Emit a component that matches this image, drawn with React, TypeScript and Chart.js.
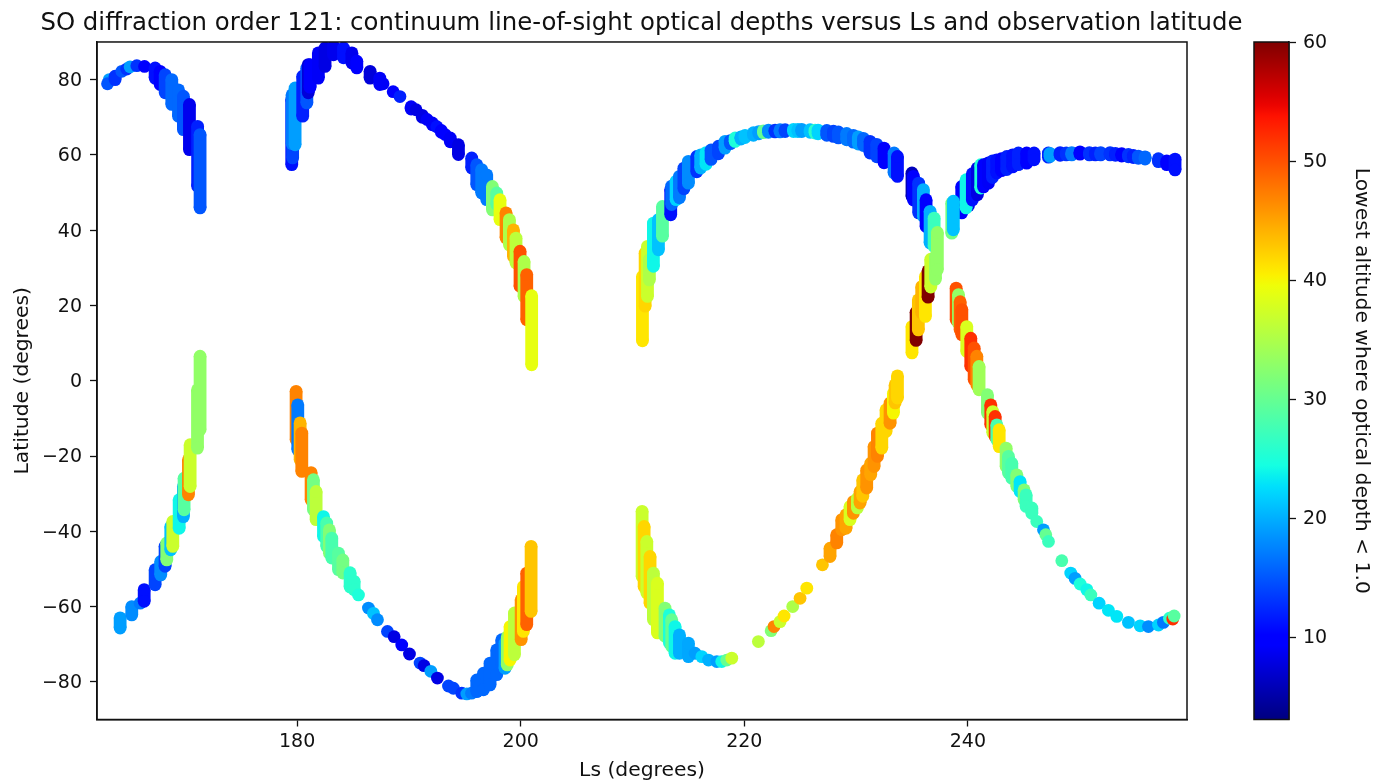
import React, { useEffect, useRef } from "react";
import { Chart, registerables } from "chart.js";

Chart.register(...registerables);

// Each row is one occultation: [Ls, latitude at one end, latitude at other end, lowest altitude]
type Swath = [number, number, number, number];

const titleText = "SO diffraction order 121: continuum line-of-sight optical depths versus Ls and observation latitude";
const xLabel = "Ls (degrees)";
const yLabel = "Latitude (degrees)";
const colorLabel = "Lowest altitude where optical depth < 1.0";
const xTicks = [180, 200, 220, 240];
const yTicks = [-80, -60, -40, -20, 0, 20, 40, 60, 80];
const colorTicks = [10, 20, 30, 40, 50, 60];

const northArcA: Swath[] = [
  [163.2, 80.0, 80.0, 19], [163.04, 78.9, 78.9, 15], [163.72, 80.9, 80.0, 13], [164.32, 82.2, 82.2, 15],
  [164.76, 82.8, 82.8, 13], [165.06, 83.4, 83.4, 19], [165.66, 83.7, 83.7, 13], [166.35, 83.5, 83.5, 9.5],
  [167.3, 83.1, 80.4, 11], [167.75, 82.2, 78.7, 10], [168.2, 81.3, 76.5, 14], [168.79, 80.0, 73.4, 16],
  [169.39, 77.3, 70.3, 16], [169.83, 75.6, 66.7, 15], [170.37, 73.4, 61.4, 8.5], [171.1, 67.6, 51.7, 12],
  [171.32, 65.4, 45.9, 15],
];

const northArcB: Swath[] = [
  [179.52, 74.7, 57.4, 11], [179.6, 74.2, 59.2, 14], [179.55, 76, 63, 17], [179.82, 77.8, 62.7, 19], [180.5, 80.9, 70.3, 12],
  [180.87, 83.1, 73.8, 15], [181.0, 84, 76.5, 7.5], [181.16, 84, 78, 10], [181.9, 87.1, 80.4, 9],
  [182.5, 88.4, 83.5, 8], [183.25, 88.9, 86.6, 8.5], [184.15, 88.4, 85.8, 11], [184.9, 87.1, 84.4, 8.5],
  [185.34, 84.9, 83.1, 9.5], [186.53, 82.2, 80.4, 7.5], [187.4, 80.4, 78.7, 9], [187.69, 78.9, 78.9, 9],
  [188.59, 76.8, 76.8, 10], [189.2, 75.5, 75.5, 12], [190.2, 72.8, 72.2, 9], [190.64, 72, 72, 8], [191.2, 70.5, 70, 8], [191.63, 69.4, 69.4, 9],
  [192.1, 68.5, 68, 9], [192.5, 67.5, 67.5, 11], [192.9, 66.5, 66, 10], [193.24, 65.4, 65.4, 9.5], [193.7, 64.5, 63.5, 9], [194.43, 62.7, 60.1, 8], [195.62, 59.2, 56.5, 12],
  [196.07, 57.4, 52.1, 15], [196.51, 56.1, 49.9, 17], [196.96, 54.7, 48.1, 17], [197.47, 51.6, 45.4, 32],
  [197.86, 49.9, 46.8, 29], [198.15, 48.1, 42.8, 39], [198.69, 44.6, 37.9, 47], [198.99, 42.8, 36.1, 35],
  [199.35, 40.1, 33, 44], [199.58, 37.9, 31.3, 36], [199.94, 34.4, 25.1, 50], [200.3, 31.7, 22.4, 35],
  [200.54, 28.2, 16.2, 49], [200.98, 22.6, 4.25, 39],
];

const northArcC: Swath[] = [
  [210.89, 27.7, 10.6, 41], [211.13, 33.9, 19.8, 42], [211.34, 35.7, 22.4, 37], [211.51, 32.2, 26.8, 35],
  [211.87, 41.9, 30.4, 24], [212.32, 42.8, 34.8, 21], [212.68, 46.3, 38.4, 29], [213.42, 50.8, 44.1, 11],
  [213.5, 51.7, 46.8, 16], [213.9, 53, 48.1, 22], [214.2, 54.3, 48.6, 17], [214.6, 56.5, 51, 14], [215, 58.3, 52.5, 18],
  [215.75, 59.6, 55.5, 13], [216.1, 60, 56.5, 20], [216.58, 60.6, 57.5, 23], [217.03, 61.3, 58.8, 15], [217.69, 62.3, 60.3, 14],
  [218.28, 63.6, 61.8, 19], [218.75, 63.8, 63, 15], [219.18, 64.5, 63.6, 25], [219.7, 64.8, 64.2, 20], [220.07, 65.2, 64.6, 21],
  [220.82, 65.9, 65.2, 20], [221.3, 66.2, 65.6, 19], [221.71, 66.4, 65.9, 30], [222.16, 66.6, 66, 18], [222.75, 66.6, 66.1, 13],
  [223.2, 66.7, 66.1, 17], [223.65, 66.7, 66.2, 14], [224.4, 66.8, 66.2, 22], [224.8, 66.8, 66.2, 21], [225.14, 66.8, 66.2, 19],
  [225.89, 66.7, 66, 21], [226.33, 66.6, 65.8, 26], [226.6, 66.6, 65.6, 22], [227.38, 66.5, 65.2, 15], [227.97, 66.3, 64.9, 14],
  [228.42, 66.1, 64.5, 15], [229.16, 65.7, 64, 17], [229.76, 65.2, 63.4, 16], [230.2, 64.8, 62.9, 19], [230.66, 64.4, 62.5, 16],
  [231.25, 63.6, 60.5, 13], [231.85, 62.8, 59.5, 14], [232.5, 61.8, 57.9, 10], [233.4, 60.5, 55.2, 17], [233.7, 59.6, 54.3, 11],
  [235, 55.2, 49, 6], [235.13, 54.3, 48, 10], [235.6, 52.5, 44.6, 13], [236.02, 50.8, 43.7, 20], [236.26, 48.1, 41, 10],
  [236.62, 45, 36.6, 20], [236.98, 43.2, 35.7, 27], [237.1, 33, 27, 33], [237.27, 39.4, 29.5, 33],
];

const northArcE: Swath[] = [
  [239.45, 51.6, 44.6, 10], [240.05, 53, 46.5, 8], [238.56, 47.2, 39.2, 31], [238.7, 47.7, 40.1, 21],
  [239.84, 53.4, 45.9, 24], [240.4, 55, 48, 11], [240.85, 56.5, 49.4, 8], [241.15, 57.4, 51.2, 25], [241.4, 57.4, 51.5, 10], [241.84, 57.9, 52.5, 9],
  [242.2, 58.4, 54, 12], [242.58, 58.7, 55.2, 11], [243, 59, 55.8, 10], [243.48, 59.6, 56.1, 12], [244, 60, 56.8, 11], [244.52, 60.5, 57.4, 12],
  [245.26, 60.5, 57.8, 10], [245.92, 60.5, 58.7, 11], [247.2, 60.5, 59.4, 12], [247.35, 60.4, 59.6, 19], [248.25, 60.6, 59.9, 12],
  [248.8, 60.5, 60, 13], [249.29, 60.6, 60, 17], [250.03, 60.8, 60.2, 10], [250.87, 60.6, 60, 13], [251.4, 60.5, 60, 12], [251.88, 60.6, 60, 14],
  [252.72, 60.6, 60, 13], [253.2, 60.4, 59.9, 12], [253.76, 60.3, 59.7, 10], [254.36, 60.1, 59.5, 13], [254.8, 59.9, 59.3, 12], [255.25, 59.7, 59.1, 15],
  [255.85, 59.5, 58.9, 16], [257.04, 59, 58.2, 13], [257.79, 58.4, 57.4, 10], [258.53, 58.9, 56, 11],
];

const southArcF: Swath[] = [
  [164.17, -63, -65.7, 19], [165.21, -60, -62.2, 18], [165.96, -59.1, -59.1, 17], [166.32, -55.5, -58.6, 11],
  [167.3, -50.2, -54.2, 14], [167.8, -48, -51.6, 18], [168.19, -44, -49.3, 14], [168.34, -43.1, -47.6, 32],
  [168.7, -38.7, -44.9, 21], [168.88, -37.4, -44, 37], [169.45, -31.6, -39.2, 24], [169.83, -28.1, -36.1, 20],
  [169.89, -25.9, -34.3, 29], [170.28, -21, -30.3, 47], [170.43, -17, -28.1, 37], [171.09, -2.4, -17.9, 33],
  [171.32, 6.5, -13, 33],
];

const southArcG: Swath[] = [
  [179.91, -2.8, -15.7, 47], [180.06, -6.4, -18.3, 17], [180.27, -11.2, -21, 44], [180.42, -13.9, -24.1, 47],
  [181.25, -24.4, -31.6, 47], [181.46, -26.3, -34.3, 31], [181.7, -29.4, -36.9, 36], [182.36, -36.1, -41.4, 24],
  [182.65, -37.8, -44, 28], [182.89, -39.6, -45.8, 32], [183.1, -41.8, -47.1, 28], [183.7, -45.8, -50.2, 29],
  [184.09, -47.6, -51.1, 31], [184.74, -51, -54.8, 26], [185.1, -53.3, -55.5, 26], [185.49, -56.9, -56.9, 25],
  [186.38, -60.4, -60.4, 18], [186.83, -61.8, -61.8, 21], [187.19, -63.5, -63.5, 18], [188.08, -66.6, -66.6, 14],
  [188.68, -68, -68, 8], [189.36, -70.2, -70.2, 10], [190.05, -72.6, -72.6, 8], [191, -75, -75, 14],
  [191.36, -75.7, -75.7, 8], [191.96, -77.2, -77.2, 19], [192.55, -79, -79, 8], [193.54, -81.1, -81.1, 14],
  [193.98, -81.7, -81.7, 14], [194.73, -83, -83, 13], [195.18, -83.2, -83.2, 19], [195.6, -83, -83, 17],
  [196.07, -79.5, -82.6, 16], [196.67, -77.7, -82.1, 16], [197.26, -75, -80.8, 16], [197.86, -71.5, -78.1, 16], [198.31, -68.8, -75.9, 16],
  [198.6, -69.7, -76.4, 19], [198.8, -68, -75.5, 33], [199.05, -65.3, -74.2, 40], [199.44, -61.7, -72.8, 36],
  [200.04, -58.2, -68.8, 46], [200.24, -54.7, -66.6, 41], [200.54, -51.1, -64.8, 49], [200.93, -44, -61.3, 43],
];

const southArcH: Swath[] = [
  [210.86, -34.7, -52, 37], [211.04, -38.7, -54.7, 42], [211.28, -42.7, -56.4, 37], [211.57, -46.7, -59.1, 42],
  [211.87, -51.1, -63.5, 36], [212.23, -53.8, -67, 38], [212.91, -60.4, -67.9, 32], [213.3, -62.2, -69.7, 25],
  [213.51, -63.5, -70.6, 30], [213.81, -65.3, -72.4, 24], [214.2, -67.5, -72.4, 20], [215, -69.7, -73.3, 19.5],
  [215.6, -72.4, -72.4, 19], [216.2, -73.3, -73.3, 22], [216.8, -74.2, -74.2, 20], [217.54, -74.6, -74.6, 19],
  [217.98, -74.6, -74.6, 24], [218.43, -74.2, -74.2, 30], [218.88, -73.7, -73.7, 37],
];

const southArcD: Swath[] = [
  [221.26, -69.3, -69.3, 36], [222.4, -66.4, -66.4, 32], [222.66, -65.3, -65.3, 47], [223.2, -64, -64, 37],
  [223.56, -62.5, -62.5, 41], [224.33, -60, -60, 35], [224.99, -57.8, -57.8, 43], [225.59, -55.1, -55.1, 41],
  [226.99, -48.9, -48.9, 43], [227.67, -44.5, -46.7, 45], [228.27, -40.9, -43.1, 47], [228.72, -36.9, -39.6, 46],
  [229.1, -35.6, -39.2, 45], [229.46, -33.4, -36.9, 38], [229.76, -32.1, -35.2, 46], [230.12, -31.2, -33.8, 36],
  [230.36, -29.4, -32.5, 45], [230.6, -26.3, -30.7, 43], [230.95, -23.7, -28.5, 46], [231.31, -21.9, -25, 45],
  [231.61, -17.5, -22.8, 46], [231.91, -13.9, -20.1, 47], [232.3, -11.3, -17.9, 42], [232.68, -7.7, -13.5, 42],
  [233.04, -5.9, -11.3, 46], [233.34, -3.3, -8.6, 40], [233.49, -1.1, -5.9, 43], [233.7, 1.3, -4.6, 42],
  [235, 14.4, 7.4, 41], [235.37, 18.2, 10.7, 60], [235.57, 21.5, 13.5, 43], [235.87, 25, 18, 44],
  [236.2, 27.7, 17.1, 41], [236.44, 29.2, 22.2, 60], [236.68, 32.3, 24.9, 37],
];

const southArcI: Swath[] = [
  [238.95, 24.6, 16.2, 50], [239.16, 22.9, 15.3, 33], [239.31, 21, 13.5, 49], [239.46, 18.9, 12.2, 50],
  [239.9, 14.4, 7.8, 38], [240.26, 11.3, 3.8, 52], [240.56, 8.7, 0.3, 50], [240.8, 6.5, -1.1, 47],
  [241, 3.8, -2.4, 34], [241.75, -3.7, -8.6, 32], [242.05, -6.4, -11.7, 52], [242.23, -8.2, -13.9, 37],
  [242.44, -9.5, -14.8, 52], [242.59, -11.7, -15.7, 28], [242.8, -13, -17.5, 41], [243.42, -17.9, -22.8, 33],
  [243.63, -20.1, -24.5, 29], [243.93, -21.9, -25.9, 28], [244.38, -25, -28.1, 32], [244.67, -26.8, -29.4, 23],
  [245.03, -29, -31.6, 32], [245.21, -30.3, -33.4, 27], [245.72, -33.8, -35.2, 27], [246.16, -37.4, -37.4, 27],
  [246.76, -39.6, -39.6, 19], [246.97, -40.9, -40.9, 30], [247.21, -42.7, -42.7, 27], [248.4, -47.8, -47.8, 28],
  [249.2, -51.1, -51.1, 22], [249.59, -52.5, -52.5, 19], [250.04, -54, -54, 25], [250.64, -55.5, -55.5, 24],
  [251, -56.9, -56.9, 27], [251.74, -59.1, -59.1, 22], [252.57, -61, -61, 23], [253.32, -62.6, -62.6, 23],
  [254.36, -64.2, -64.2, 21], [255.41, -65.1, -65.1, 22], [256.15, -65.3, -65.3, 18], [257.05, -64.9, -64.9, 22],
  [257.49, -64.2, -64.2, 17], [258.03, -63.1, -63.1, 26], [258.33, -63.3, -63.3, 52], [258.45, -62.5, -62.5, 29],
];

const arcsInDrawOrder = [northArcA, southArcF, northArcB, southArcG, southArcH, southArcD, northArcC, northArcE, southArcI];

const ALT_MIN = 3.07;
const ALT_MAX = 60;
const FONT = '"DejaVu Sans"';
const INK = "#111111";

function ramp(t: number, stops: [number, number][]): number {
  for (let i = 1; i < stops.length; i++) {
    if (t <= stops[i][0]) {
      const [a, va] = stops[i - 1];
      const [b, vb] = stops[i];
      return va + ((t - a) / (b - a)) * (vb - va);
    }
  }
  return stops[stops.length - 1][1];
}

// matplotlib "jet"
function jet(t: number): string {
  const r = ramp(t, [[0, 0], [0.35, 0], [0.66, 1], [0.89, 1], [1, 0.5]]);
  const g = ramp(t, [[0, 0], [0.125, 0], [0.375, 1], [0.64, 1], [0.91, 0], [1, 0]]);
  const b = ramp(t, [[0, 0.5], [0.11, 1], [0.34, 1], [0.65, 0], [1, 0]]);
  return `rgb(${Math.round(r * 255)},${Math.round(g * 255)},${Math.round(b * 255)})`;
}

const altColor = (alt: number) => jet((alt - ALT_MIN) / (ALT_MAX - ALT_MIN));

const framePlugin = {
  id: "frame",
  afterDatasetsDraw(chart: any) {
    const { ctx, chartArea: a } = chart;
    ctx.save();
    ctx.strokeStyle = INK;
    ctx.lineWidth = 1.5;
    ctx.strokeRect(a.left, a.top, a.right - a.left, a.bottom - a.top);
    ctx.restore();
  },
};

const gradientPlugin = {
  id: "jetBar",
  beforeDatasetsDraw(chart: any) {
    const { ctx, chartArea: a } = chart;
    const g = ctx.createLinearGradient(0, a.bottom, 0, a.top);
    for (let i = 0; i <= 64; i++) g.addColorStop(i / 64, jet(i / 64));
    ctx.save();
    ctx.fillStyle = g;
    ctx.fillRect(a.left, a.top, a.right - a.left, a.bottom - a.top);
    ctx.restore();
  },
};

const setTicks = (values: number[]) => (scale: any) => {
  scale.ticks = values.map((value) => ({ value }));
};
const minusLabel = (v: any) => String(v).replace("-", "\u2212");

export default function App() {
  const mainRef = useRef<HTMLCanvasElement>(null);
  const barRef = useRef<HTMLCanvasElement>(null);

  useEffect(() => {
    const datasets: any[] = [];
    for (const arc of arcsInDrawOrder) {
      for (const [ls, latA, latB, alt] of arc) {
        const color = altColor(alt);
        // Chart.js paints the first dataset last, so unshift keeps later rows on top
        datasets.unshift({
          data: latA === latB ? [{ x: ls, y: latA }] : [{ x: ls, y: latA }, { x: ls, y: latB }],
          showLine: true,
          borderColor: color,
          borderWidth: 12.8,
          backgroundColor: color,
          pointRadius: 6.4,
          pointBorderWidth: 0,
          pointHoverRadius: 6.4,
          clip: 0,
        });
      }
    }

    const main = new Chart(mainRef.current!, {
      type: "scatter",
      data: { datasets },
      plugins: [framePlugin],
      options: {
        animation: false,
        responsive: false,
        events: [],
        plugins: {
          legend: { display: false },
          tooltip: { enabled: false },
          title: {
            display: true,
            text: titleText,
            color: INK,
            font: { family: FONT, size: 24.4, weight: "normal", lineHeight: 1.2 },
            padding: { top: 8.7, bottom: 4 },
          },
        },
        scales: {
          x: {
            type: "linear",
            min: 162.1,
            max: 259.6,
            afterBuildTicks: setTicks(xTicks),
            afterFit: (s: any) => { s.height = 63.5; },
            grid: { drawOnChartArea: false, tickLength: 7, color: INK, tickWidth: 1.3 },
            border: { color: INK, width: 1.5 },
            ticks: { color: INK, font: { family: FONT, size: 19 }, padding: 4, maxRotation: 0, autoSkip: false },
            title: { display: true, text: xLabel, color: INK, font: { family: FONT, size: 20.3 }, padding: { top: 0, bottom: 0 } },
          },
          y: {
            type: "linear",
            min: -90,
            max: 90,
            afterBuildTicks: setTicks(yTicks),
            afterFit: (s: any) => { s.width = 97; },
            grid: { drawOnChartArea: false, tickLength: 7, color: INK, tickWidth: 1.3 },
            border: { color: INK, width: 1.5 },
            ticks: { color: INK, font: { family: FONT, size: 19 }, padding: 8, labelOffset: 1.5, autoSkip: false, callback: minusLabel },
            title: { display: true, text: yLabel, color: INK, font: { family: FONT, size: 20.3 }, padding: { top: 10.6, bottom: 0 } },
          },
          // Empty axis: reserves the room right of the plot so the title stays centred on 641.5px
          spacer: {
            type: "linear",
            position: "right",
            afterFit: (s: any) => { s.width = 96; },
            grid: { display: false },
            border: { display: false },
            ticks: { display: false },
          },
        },
      },
    });

    const bar = new Chart(barRef.current!, {
      type: "scatter",
      data: { datasets: [{ data: [], pointRadius: 0 }] },
      plugins: [gradientPlugin, framePlugin],
      options: {
        animation: false,
        responsive: false,
        events: [],
        layout: { padding: { left: 67, top: 42, right: 0, bottom: 63.5 } },
        plugins: { legend: { display: false }, tooltip: { enabled: false } },
        scales: {
          x: { display: false, min: 0, max: 1 },
          y: {
            type: "linear",
            position: "right",
            min: ALT_MIN,
            max: ALT_MAX,
            afterBuildTicks: setTicks(colorTicks),
            afterFit: (s: any) => { s.width = 98; },
            grid: { drawOnChartArea: false, tickLength: 7, color: INK, tickWidth: 1.3 },
            border: { color: INK, width: 1.5 },
            ticks: { color: INK, font: { family: FONT, size: 19 }, padding: 7, labelOffset: 1.5, autoSkip: false },
            title: { display: true, text: colorLabel, color: INK, font: { family: FONT, size: 20.3 }, padding: { top: 14, bottom: 0 } },
          },
        },
      },
    });

    return () => {
      main.destroy();
      bar.destroy();
    };
  }, []);

  return (
    <div style={{ position: "absolute", left: 0, top: 0, width: 1387, height: 783, overflow: "hidden", background: "#fff" }}>
      <canvas ref={mainRef} width={1283} height={783} style={{ position: "absolute", left: 0, top: 0 }} />
      <canvas ref={barRef} width={200} height={783} style={{ position: "absolute", left: 1187, top: 0 }} />
    </div>
  );
}
